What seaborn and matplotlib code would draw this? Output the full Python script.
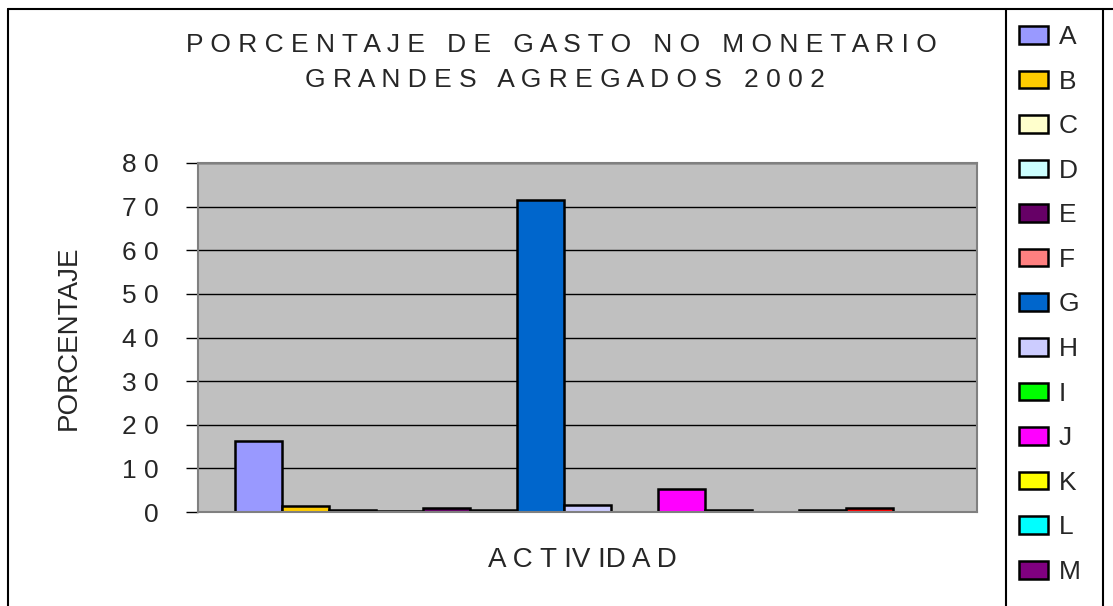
import numpy as np
import pandas as pd
import matplotlib
matplotlib.use("Agg")
import matplotlib.pyplot as plt
from matplotlib.lines import Line2D
from matplotlib.patches import Patch
import seaborn as sns

# Series (one activity group)
series = ["A", "B", "C", "D", "E", "F", "G", "H", "I", "J", "K", "L", "M", "N", "O"]
values = [16.2, 1.4, 0.4, 0.3, 1.0, 0.4, 71.6, 1.5, 0.0, 5.3, 0.4, 0.0, 0.4, 1.0, 0.0]
colors = ["#9999FF", "#FFCC00", "#FFFFCC", "#CCFFFF", "#660066", "#FF8080",
          "#0066CC", "#CCCCFF", "#00FF00", "#FF00FF", "#FFFF00", "#00FFFF",
          "#800080", "#FF0000", "#000080"]
y_ticks = [0, 10, 20, 30, 40, 50, 60, 70, 80]
y_tick_labels = ["0", "1 0", "2 0", "3 0", "4 0", "5 0", "6 0", "7 0", "8 0"]

title_1 = "P O R C E N T A J E   D E   G A S T O   N O   M O N E T A R I O"
title_2 = "G R A N D E S   A G R E G A D O S   2 0 0 2"

df = pd.DataFrame({"actividad": [""] * len(series), "serie": series, "porcentaje": values})

sns.set_style("white")
plt.rcParams["font.family"] = ["Liberation Sans", "DejaVu Sans"]

W, H = 1113, 606
fig = plt.figure(figsize=(W / 100, H / 100), dpi=100)
ax = fig.add_axes([198 / W, 1 - 512 / H, 779 / W, 349 / H])

sns.barplot(df, x="actividad", y="porcentaje", hue="serie", palette=colors,
            width=0.905, edgecolor="black", linewidth=1.8, ax=ax, saturation=1,
            legend=False)

# zero bars are not drawn in the original
for p in ax.patches:
    if p.get_height() == 0:
        p.set_visible(False)

ax.set_facecolor("#C0C0C0")
ax.set_xlim(-0.5, 0.5)
ax.set_ylim(0, 80)
ax.set_yticks(y_ticks)
ax.set_yticklabels(y_tick_labels, fontsize=19)
ax.tick_params(axis="y", direction="out", length=9, width=1, color="black", pad=19, left=True)
ax.tick_params(axis="x", bottom=False, labelbottom=False)
ax.yaxis.grid(True, color="black", linewidth=1)
ax.set_axisbelow(True)
for s in ax.spines.values():
    s.set_color("#808080")
    s.set_linewidth(1.5)
ax.set_xlabel("")
ax.set_ylabel("PORCENTAJE", fontsize=20)
ax.yaxis.set_label_coords(-(198 - 82) / 779, 0.5)

# legend (only A..M are visible in the reference)
handles = [Patch(facecolor=c, edgecolor="black", linewidth=1.8) for c in colors[:13]]
fig.legend(handles, series[:13], loc="upper left",
           bbox_to_anchor=(1019 / W, 1 - 25 / H), frameon=False, fontsize=19,
           handlelength=1.1, handleheight=0.65, handletextpad=0.4,
           labelspacing=0.78, borderaxespad=0, borderpad=0)

fig.text(561 / W, 1 - 45 / H, title_1, ha="center", va="center", fontsize=19)
fig.text(565 / W, 1 - 80 / H, title_2, ha="center", va="center", fontsize=19)
fig.text(582 / W, 1 - 560 / H, "A C T IV ID A D", ha="center", va="center", fontsize=20)

# chart and legend frames
for xs, ys in [([8, 8], [9, H]), ([8, W], [9, 9]), ([1006, 1006], [9, H]), ([1103, 1103], [9, H])]:
    fig.add_artist(Line2D([x / W for x in xs], [1 - y / H for y in ys], color="black", linewidth=1.5))

fig.savefig("out.png", dpi=100)
